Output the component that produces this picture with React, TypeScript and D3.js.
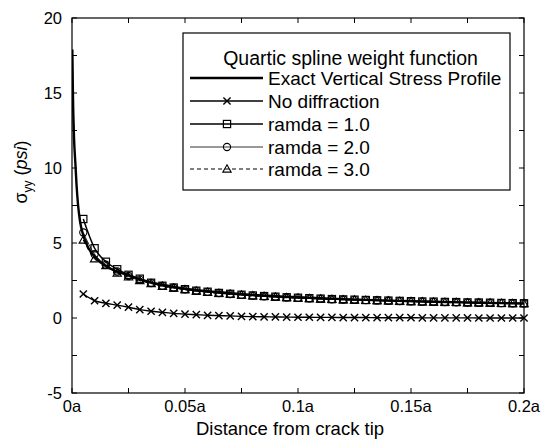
import React from "react";
import * as d3 from "d3";

// Distance from crack tip (fraction of a) for marker-bearing series
const markerX = [
  0.005, 0.01, 0.015, 0.02, 0.025, 0.03, 0.035, 0.04, 0.045, 0.05,
  0.055, 0.06, 0.065, 0.07, 0.075, 0.08, 0.085, 0.09, 0.095, 0.1,
  0.105, 0.11, 0.115, 0.12, 0.125, 0.13, 0.135, 0.14, 0.145, 0.15,
  0.155, 0.16, 0.165, 0.17, 0.175, 0.18, 0.185, 0.19, 0.195, 0.2,
];

// Exact vertical stress profile (dense near the tip)
const exactX = [
  0.00015, 0.0004, 0.0009, 0.0015, 0.002, 0.0027, 0.0035, 0.005, 0.0075, 0.01,
  0.015, 0.02, 0.025, 0.03, 0.04, 0.05, 0.06, 0.07, 0.08, 0.1,
  0.12, 0.14, 0.16, 0.18, 0.2,
];
const exactY = [
  17.9, 15.0, 12.0, 10.3, 8.9, 7.5, 6.5, 5.5, 4.6, 4.1,
  3.45, 3.1, 2.85, 2.58, 2.22, 1.95, 1.78, 1.65, 1.54, 1.38,
  1.26, 1.16, 1.08, 1.02, 0.96,
];

const noDiffraction = [
  1.6, 1.15, 0.98, 0.86, 0.72, 0.56, 0.45, 0.38, 0.31, 0.26,
  0.22, 0.18, 0.16, 0.14, 0.11, 0.09, 0.08, 0.07, 0.06, 0.05,
  0.05, 0.04, 0.04, 0.03, 0.03, 0.03, 0.02, 0.02, 0.02, 0.02,
  0.01, 0.01, 0.01, 0.01, 0.01, 0.0, 0.0, 0.0, 0.0, 0.0,
];

const ramda1 = [
  6.6, 4.65, 3.75, 3.25, 2.88, 2.62, 2.35, 2.15, 2.03, 1.92,
  1.82, 1.75, 1.67, 1.61, 1.55, 1.5, 1.46, 1.42, 1.38, 1.35,
  1.32, 1.29, 1.26, 1.24, 1.22, 1.2, 1.18, 1.16, 1.14, 1.12,
  1.1, 1.09, 1.07, 1.06, 1.04, 1.03, 1.02, 1.0, 0.99, 0.98,
];

const ramda2 = [
  5.7, 4.25, 3.55, 3.1, 2.8, 2.56, 2.33, 2.14, 2.02, 1.91,
  1.81, 1.74, 1.66, 1.6, 1.54, 1.49, 1.45, 1.41, 1.37, 1.34,
  1.31, 1.28, 1.25, 1.23, 1.21, 1.19, 1.17, 1.15, 1.13, 1.11,
  1.09, 1.08, 1.06, 1.05, 1.03, 1.02, 1.01, 0.99, 0.98, 0.97,
];

const ramda3 = [
  5.2, 3.95, 3.5, 3.0, 2.74, 2.5, 2.3, 2.12, 2.0, 1.89,
  1.8, 1.72, 1.65, 1.59, 1.53, 1.48, 1.44, 1.4, 1.36, 1.33,
  1.3, 1.27, 1.24, 1.22, 1.2, 1.18, 1.16, 1.14, 1.12, 1.1,
  1.08, 1.07, 1.05, 1.04, 1.02, 1.01, 1.0, 0.98, 0.97, 0.96,
];

const xTicks = [0, 0.025, 0.05, 0.075, 0.1, 0.125, 0.15, 0.175, 0.2];
const xTickLabels = ["0a", "", "0.05a", "", "0.1a", "", "0.15a", "", "0.2a"];
const yTicks = [-5, -2.5, 0, 2.5, 5, 7.5, 10, 12.5, 15, 17.5, 20];
const yTickLabels = ["-5", "", "0", "", "5", "", "10", "", "15", "", "20"];

const legendTitle = "Quartic spline weight function";
const legendLabels = [
  "Exact Vertical Stress Profile",
  "No diffraction",
  "ramda = 1.0",
  "ramda = 2.0",
  "ramda = 3.0",
];

const W = 551;
const H = 448;
const plot = { left: 72, right: 524, top: 18, bottom: 393 };
const FONT = "'Liberation Sans', Arial, Helvetica, sans-serif";

type MarkerKind = "none" | "x" | "square" | "circle" | "triangle";

function Marker({ kind, cx, cy }: { kind: MarkerKind; cx: number; cy: number }) {
  const s = 3.6;
  if (kind === "x") {
    return (
      <path
        d={`M${cx - s},${cy - s}L${cx + s},${cy + s}M${cx - s},${cy + s}L${cx + s},${cy - s}`}
        stroke="#000"
        strokeWidth={1.4}
        fill="none"
      />
    );
  }
  if (kind === "square") {
    return (
      <rect x={cx - s} y={cy - s} width={2 * s} height={2 * s} fill="none" stroke="#000" strokeWidth={1.2} />
    );
  }
  if (kind === "circle") {
    return <circle cx={cx} cy={cy} r={s} fill="none" stroke="#000" strokeWidth={1.1} />;
  }
  if (kind === "triangle") {
    const r = s + 0.6;
    return (
      <path
        d={`M${cx},${cy - r}L${cx + r},${cy + r * 0.75}L${cx - r},${cy + r * 0.75}Z`}
        fill="none"
        stroke="#000"
        strokeWidth={1.1}
      />
    );
  }
  return null;
}

export default function App() {
  const x = d3.scaleLinear().domain([0, 0.2]).range([plot.left, plot.right]);
  const y = d3.scaleLinear().domain([-5, 20]).range([plot.bottom, plot.top]);

  const line = d3
    .line<[number, number]>()
    .x((d) => x(d[0]))
    .y((d) => y(d[1]))
    .curve(d3.curveMonotoneX);

  const exactPts: [number, number][] = exactX.map((v, i) => [v, exactY[i]]);
  const pts = (vals: number[]): [number, number][] => markerX.map((v, i) => [v, vals[i]]);

  const series: {
    data: [number, number][];
    kind: MarkerKind;
    width: number;
    dash?: string;
    color: string;
  }[] = [
    { data: pts(ramda3), kind: "triangle", width: 1.1, dash: "4,3", color: "#000" },
    { data: pts(ramda2), kind: "circle", width: 1.0, color: "#333" },
    { data: pts(ramda1), kind: "square", width: 1.5, color: "#000" },
    { data: pts(noDiffraction), kind: "x", width: 1.4, color: "#000" },
  ];

  const tickLen = 5;

  // legend geometry
  const lg = { x0: 183, y0: 33, x1: 510, y1: 190 };
  const rowY = [78, 101, 124, 147, 169];
  const sampleX0 = 190;
  const sampleX1 = 263;
  const sampleMid = 227;
  const legendStyles: { kind: MarkerKind; width: number; dash?: string; color: string }[] = [
    { kind: "none", width: 2.4, color: "#000" },
    { kind: "x", width: 1.4, color: "#000" },
    { kind: "square", width: 1.5, color: "#000" },
    { kind: "circle", width: 1.0, color: "#333" },
    { kind: "triangle", width: 1.1, dash: "4,3", color: "#000" },
  ];

  return (
    <svg
      width={W}
      height={H}
      viewBox={`0 0 ${W} ${H}`}
      style={{ position: "absolute", left: 0, top: 0, background: "#fff" }}
      fontFamily={FONT}
    >
      <rect x={0} y={0} width={W} height={H} fill="#fff" />

      {/* data */}
      <g clipPath="url(#plotClip)">
        {series.map((s, i) => (
          <g key={i}>
            <path
              d={line(s.data) ?? ""}
              fill="none"
              stroke={s.color}
              strokeWidth={s.width}
              strokeDasharray={s.dash}
            />
            {s.data.map((d, j) => (
              <Marker key={j} kind={s.kind} cx={x(d[0])} cy={y(d[1])} />
            ))}
          </g>
        ))}
        <path d={line(exactPts) ?? ""} fill="none" stroke="#000" strokeWidth={2.4} />
      </g>
      <defs>
        <clipPath id="plotClip">
          <rect x={plot.left} y={plot.top} width={plot.right - plot.left + 6} height={plot.bottom - plot.top} />
        </clipPath>
      </defs>

      {/* frame */}
      <rect
        x={plot.left}
        y={plot.top}
        width={plot.right - plot.left}
        height={plot.bottom - plot.top}
        fill="none"
        stroke="#000"
        strokeWidth={1.2}
      />

      {/* x ticks */}
      {xTicks.map((t, i) => (
        <g key={`xt${i}`}>
          <line x1={x(t)} x2={x(t)} y1={plot.bottom} y2={plot.bottom - tickLen} stroke="#000" strokeWidth={1} />
          <line x1={x(t)} x2={x(t)} y1={plot.top} y2={plot.top + tickLen} stroke="#000" strokeWidth={1} />
          {xTickLabels[i] && (
            <text x={x(t)} y={412} fontSize={16.5} textAnchor="middle" fill="#000">
              {xTickLabels[i]}
            </text>
          )}
        </g>
      ))}

      {/* y ticks */}
      {yTicks.map((t, i) => (
        <g key={`yt${i}`}>
          <line x1={plot.left} x2={plot.left + tickLen} y1={y(t)} y2={y(t)} stroke="#000" strokeWidth={1} />
          <line x1={plot.right} x2={plot.right - tickLen} y1={y(t)} y2={y(t)} stroke="#000" strokeWidth={1} />
          {yTickLabels[i] && (
            <text x={62} y={y(t) + 6} fontSize={16.5} textAnchor="end" fill="#000">
              {yTickLabels[i]}
            </text>
          )}
        </g>
      ))}

      {/* axis titles */}
      <text x={290} y={435} fontSize={18.5} textAnchor="middle" fill="#000">
        Distance from crack tip
      </text>
      <text transform="translate(27,172) rotate(-90)" fontSize={18} textAnchor="middle" fill="#000">
        σ
        <tspan fontSize={12} dy={5}>yy</tspan>
        <tspan dy={-5}> (</tspan>
        <tspan fontStyle="italic">psi</tspan>
        <tspan>)</tspan>
      </text>

      {/* legend */}
      <rect x={lg.x0} y={lg.y0} width={lg.x1 - lg.x0} height={lg.y1 - lg.y0} fill="#fff" stroke="#000" strokeWidth={1.2} />
      <text x={(lg.x0 + lg.x1) / 2 + 4} y={64.5} fontSize={19.5} textAnchor="middle" fill="#000">
        {legendTitle}
      </text>
      {legendLabels.map((lab, i) => {
        const st = legendStyles[i];
        const yy = rowY[i];
        return (
          <g key={`lg${i}`}>
            <line
              x1={sampleX0}
              x2={sampleX1}
              y1={yy}
              y2={yy}
              stroke={st.color}
              strokeWidth={st.width}
              strokeDasharray={st.dash}
            />
            <Marker kind={st.kind} cx={sampleMid} cy={yy} />
            <text x={268} y={yy + 6.5} fontSize={19} fill="#000">
              {lab}
            </text>
          </g>
        );
      })}
    </svg>
  );
}
